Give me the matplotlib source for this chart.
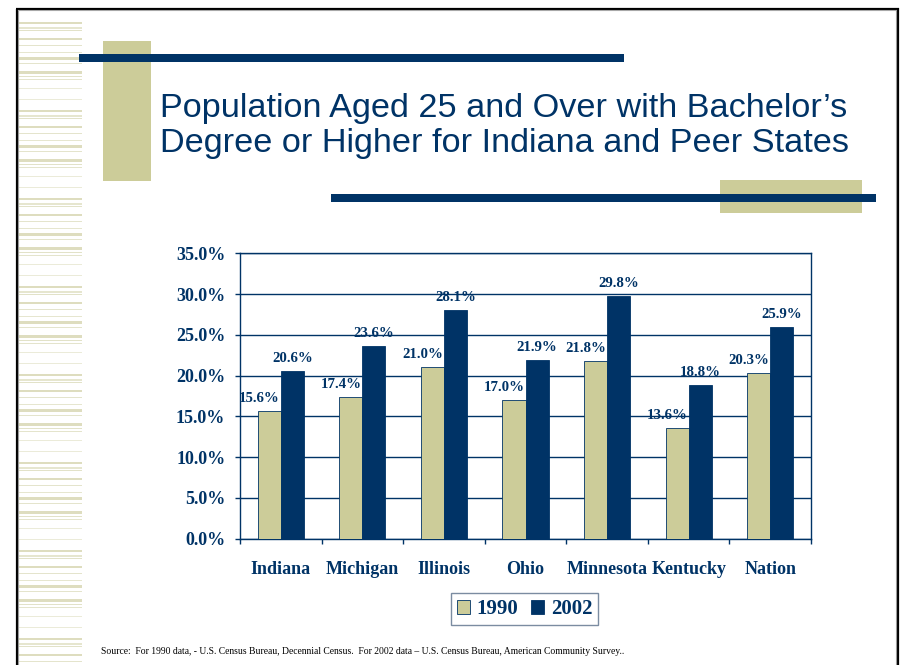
import numpy as np
import matplotlib
matplotlib.use("Agg")
import matplotlib.pyplot as plt
from matplotlib.patches import Rectangle, Patch
from matplotlib.ticker import FixedLocator, PercentFormatter

# education attainment, share of population 25+ with a bachelor's degree or higher
states = ["Indiana", "Michigan", "Illinois", "Ohio", "Minnesota", "Kentucky", "Nation"]
pct_1990 = [15.6, 17.4, 21.0, 17.0, 21.8, 13.6, 20.3]
pct_2002 = [20.6, 23.6, 28.1, 21.9, 29.8, 18.8, 25.9]
series_names = ["1990", "2002"]
y_ticks = [0, 5, 10, 15, 20, 25, 30, 35]

title_lines = ["Population Aged 25 and Over with Bachelor\u2019s",
               "Degree or Higher for Indiana and Peer States"]
source_note = ("Source:  For 1990 data, - U.S. Census Bureau, Decennial Census.  "
               "For 2002 data \u2013 U.S. Census Bureau, American Community Survey..")

NAVY = "#003366"
KHAKI = "#cccc99"
SERIF = "Liberation Serif"
SANS = "Liberation Sans"

W, H = 900, 665
fig = plt.figure(figsize=(W / 100, H / 100), dpi=100)

# slide background drawn in pixel units
bg = fig.add_axes([0, 0, 1, 1])
bg.set_xlim(0, W)
bg.set_ylim(H, 0)
bg.axis("off")

# striped margin on the left
stripe_tile = [(0, 2.8, "#deddbf"), (5, 1.3, "#e6e6cf"), (7.7, 1.3, "#e2e2c8"),
               (16, 2.8, "#deddbf"), (22.3, 1.3, "#e4e4cc"), (29.7, 1.3, "#e6e6cf"),
               (35.3, 2.8, "#deddbf"), (40.3, 1.3, "#e4e4cc"), (49.3, 2.8, "#deddbf"),
               (53.3, 1.3, "#e2e2c8"), (56.7, 1.3, "#e4e4cc"), (65.3, 1.1, "#ebebd9"),
               (76.3, 1.1, "#ebebd9")]
for start in np.arange(-65, H, 88):
    for off, th, col in stripe_tile:
        y = start + off
        if 12 < y < H:
            bg.add_patch(Rectangle((18, y - th / 2), 64, th, color=col, lw=0))

# slide frame
bg.plot([16.5, 16.5], [8.5, H], color="black", lw=1.6, solid_capstyle="butt")
bg.plot([18.3, 18.3], [10, H], color="#9a9a9a", lw=0.8)
bg.plot([16, 898.5], [8.5, 8.5], color="black", lw=1.6, solid_capstyle="butt")
bg.plot([18, 896.5], [10.3, 10.3], color="#a8a8a8", lw=0.8)
bg.plot([898, 898], [8, H], color="black", lw=1.6, solid_capstyle="butt")
bg.plot([896.3, 896.3], [10, H], color="#9a9a9a", lw=0.8)

# title ornaments
bg.add_patch(Rectangle((103, 41), 48, 140, color=KHAKI, lw=0))
bg.add_patch(Rectangle((79, 54), 545, 8, color=NAVY, lw=0))
bg.add_patch(Rectangle((720, 180), 142, 33, color=KHAKI, lw=0))
bg.add_patch(Rectangle((331, 194), 545, 8, color=NAVY, lw=0))

bg.text(160, 117, title_lines[0], family=SANS, fontsize=24.7, color=NAVY, va="baseline")
bg.text(160, 152, title_lines[1], family=SANS, fontsize=24.7, color=NAVY, va="baseline")
bg.text(101, 651, source_note, family=SERIF, fontsize=6.93, color="black", va="center")

# bar chart
left, right, top, bottom = 240, 811, 253.3, 538.5
ax = fig.add_axes([left / W, (H - bottom) / H, (right - left) / W, (bottom - top) / H])
x = np.arange(len(states))
bw = 0.282
b1 = ax.bar(x - bw / 2, pct_1990, bw, color=KHAKI, edgecolor=NAVY, linewidth=0.6,
            label=series_names[0], zorder=3)
b2 = ax.bar(x + bw / 2, pct_2002, bw, color=NAVY, edgecolor=NAVY, linewidth=0.6,
            label=series_names[1], zorder=3)

for xi, v in zip(x, pct_1990):
    ax.annotate(f"{v:.1f}%", (xi - bw / 2, v), xytext=(-10, 9), textcoords="offset pixels",
                ha="center", va="baseline", family=SERIF, fontsize=10.7,
                fontweight="bold", color=NAVY, zorder=4)
for xi, v in zip(x, pct_2002):
    ax.annotate(f"{v:.1f}%", (xi + bw / 2, v), xytext=(0, 9), textcoords="offset pixels",
                ha="center", va="baseline", family=SERIF, fontsize=10.7,
                fontweight="bold", color=NAVY, zorder=4)

ax.set_xlim(-0.5, len(states) - 0.5)
ax.set_ylim(0, 35)
ax.yaxis.set_major_locator(FixedLocator(y_ticks))
ax.yaxis.set_major_formatter(PercentFormatter(decimals=1))
ax.grid(axis="y", color=NAVY, lw=1, zorder=0)
ax.set_axisbelow(True)

ax.set_xticks(x)
ax.set_xticklabels(states)
ax.xaxis.set_minor_locator(FixedLocator(np.arange(-0.5, len(states), 1.0)))
ax.tick_params(axis="x", which="major", length=0, pad=16)
ax.tick_params(axis="x", which="minor", length=3.5, width=1, color=NAVY, direction="out")
ax.tick_params(axis="y", length=3.6, width=1, color=NAVY, pad=7)

for lab in ax.get_xticklabels() + ax.get_yticklabels():
    lab.set_family(SERIF)
    lab.set_fontweight("bold")
    lab.set_fontsize(13)
    lab.set_color(NAVY)

for sp in ax.spines.values():
    sp.set_color(NAVY)
    sp.set_linewidth(1)

handles = [Patch(facecolor=KHAKI, edgecolor=NAVY, lw=0.6, label=series_names[0]),
           Patch(facecolor=NAVY, edgecolor=NAVY, lw=0.6, label=series_names[1])]
leg = ax.legend(handles=handles, loc="center", ncol=2,
                bbox_to_anchor=(524.5 / W, 1 - 609 / H), bbox_transform=fig.transFigure,
                prop={"family": SERIF, "weight": "bold", "size": 15},
                frameon=True, fancybox=False, handlelength=0.65, handleheight=0.65,
                handletextpad=0.3, columnspacing=0.6, borderpad=0.3, labelcolor=NAVY)
leg.get_frame().set_edgecolor("#5a6f8a")
leg.get_frame().set_linewidth(1)

fig.savefig("out.png", dpi=100)
